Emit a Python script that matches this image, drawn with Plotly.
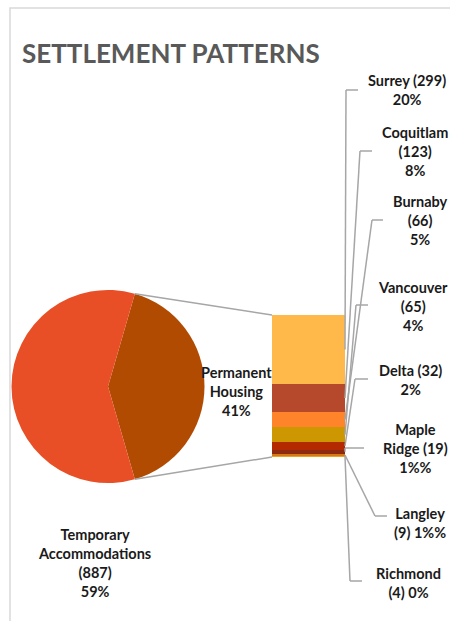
import math
import plotly.graph_objects as go

W, H = 450, 621

# ---- data ----
pie_labels = ["Permanent Housing", "Temporary Accommodations"]
pie_values = [617, 887]
pie_colors = ["#B14B02", "#E94F26"]

cities = ["Surrey", "Coquitlam", "Burnaby", "Vancouver", "Delta", "Maple Ridge", "Langley", "Richmond"]
city_values = [299, 123, 66, 65, 32, 19, 9, 4]
city_colors = ["#FFB94A", "#B6492B", "#FF842A", "#CC9700", "#B32A00", "#8E2A12", "#D97A10", "#E8A030"]
city_texts = [
    "Surrey (299)<br>20%",
    "Coquitlam<br>(123)<br>8%",
    "Burnaby<br>(66)<br>5%",
    "Vancouver<br>(65)<br>4%",
    "Delta (32)<br>2%",
    "Maple<br>Ridge (19)<br>1%%",
    "Langley<br>(9) 1%%",
    "Richmond<br>(4) 0%",
]
pie_texts = ["Permanent<br>Housing<br>41%", "Temporary<br>Accommodations<br>(887)<br>59%"]

# ---- layout (pixel positions) ----
pie_cx, pie_cy, pie_r = 108, 386.5, 96.5
bar_x0, bar_x1, bar_y0, bar_y1 = 272, 345, 315, 457
label_pos = [(407, 90), (415, 152), (420, 220), (413, 306), (410, 380), (415, 448), (420, 523), (408, 583)]
tick_pos = [(346, 90, 358), (360, 151, 372), (372, 220, 383), (356, 305, 368),
            (355, 379, 368), (345, 448, 364), (375, 516, 387), (350, 581, 362)]
LABEL_FONT = 14.5

def px(x):
    return x / W

def py(y):
    return 1 - y / H

total = sum(city_values)
span = 360 * pie_values[0] / sum(pie_values)
rotation = 90 - span / 2

fig = go.Figure()
fig.add_trace(go.Pie(
    labels=pie_labels, values=pie_values, sort=False, direction="clockwise",
    rotation=rotation, marker=dict(colors=pie_colors, line=dict(width=0)),
    textinfo="none", hoverinfo="label+value+percent", showlegend=False,
    domain=dict(x=[px(pie_cx - pie_r), px(pie_cx + pie_r)], y=[py(pie_cy + pie_r), py(pie_cy - pie_r)]),
))
for name, v, c in zip(cities, city_values, city_colors):
    fig.add_trace(go.Bar(x=[0], y=[v], name=name, marker=dict(color=c, line=dict(width=0)),
                         width=1, showlegend=False, xaxis="x", yaxis="y"))

shapes = []
shapes.append(dict(type="rect", xref="paper", yref="paper", x0=px(10), y0=py(8), x1=px(470), y1=py(640),
                   line=dict(color="#D9D9D9", width=1.5), fillcolor="rgba(0,0,0,0)", layer="below"))
gray = "#A6A6A6"
for ang, by in [(rotation, bar_y0), (rotation + span, bar_y1)]:
    a = math.radians(ang)
    x0 = pie_cx + pie_r * math.sin(a)
    y0 = pie_cy - pie_r * math.cos(a)
    shapes.append(dict(type="line", xref="paper", yref="paper", x0=px(x0), y0=py(y0), x1=px(bar_x0), y1=py(by),
                       line=dict(color=gray, width=1.5)))
cum = 0
annotations = []
for i, v in enumerate(city_values):
    mid = cum + v / 2
    cum += v
    ym = bar_y0 + (bar_y1 - bar_y0) * mid / total
    tx0, ty, tx1 = tick_pos[i]
    shapes.append(dict(type="line", xref="paper", yref="paper", x0=px(bar_x1), y0=py(ym), x1=px(tx0), y1=py(ty),
                       line=dict(color=gray, width=1.5)))
    shapes.append(dict(type="line", xref="paper", yref="paper", x0=px(tx0), y0=py(ty), x1=px(tx1), y1=py(ty),
                       line=dict(color=gray, width=1.5)))
    lx, ly = label_pos[i]
    annotations.append(dict(xref="paper", yref="paper", x=px(lx), y=py(ly), text="<b>" + city_texts[i] + "</b>",
                            showarrow=False, xanchor="center", yanchor="middle", align="center",
                            font=dict(family="Lato", size=LABEL_FONT, color="#1A1A1A")))

annotations.append(dict(xref="paper", yref="paper", x=px(237), y=py(391), text="<b>" + pie_texts[0] + "</b>",
                        showarrow=False, xanchor="center", yanchor="middle", align="center",
                        font=dict(family="Lato", size=LABEL_FONT, color="#1A1A1A")))
annotations.append(dict(xref="paper", yref="paper", x=px(94), y=py(563), text="<b>" + pie_texts[1] + "</b>",
                        showarrow=False, xanchor="center", yanchor="middle", align="center",
                        font=dict(family="Lato", size=LABEL_FONT, color="#1A1A1A")))
annotations.append(dict(xref="paper", yref="paper", x=px(20), y=py(53), text="<b>SETTLEMENT PATTERNS</b>",
                        showarrow=False, xanchor="left", yanchor="middle",
                        font=dict(family="Lato", size=26, color="#595959")))

fig.update_layout(
    width=W, height=H, margin=dict(l=0, r=0, t=0, b=0),
    paper_bgcolor="white", plot_bgcolor="rgba(0,0,0,0)",
    barmode="stack", bargap=0,
    xaxis=dict(domain=[px(bar_x0), px(bar_x1)], range=[-0.5, 0.5], visible=False, fixedrange=True),
    yaxis=dict(domain=[py(bar_y1), py(bar_y0)], range=[total, 0], visible=False, fixedrange=True),
    shapes=shapes, annotations=annotations,
)
fig.write_html("out.html", config={"displayModeBar": False},
               post_script="document.body.style.margin='0';document.body.style.overflow='hidden';")
